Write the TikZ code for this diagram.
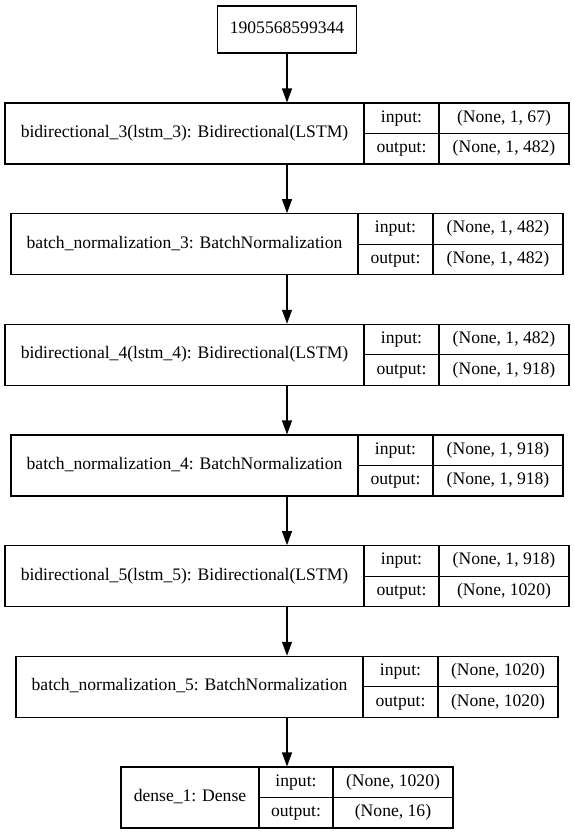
\documentclass[tikz,border=0pt]{standalone}
\usepackage{fontspec}
\setmainfont{Liberation Serif}
\usetikzlibrary{arrows.meta}
\tikzset{
  box/.style={draw=black, line width=1.1pt, inner sep=0pt, fill=none},
  txt/.style={inner sep=0pt, font=\fontsize{17.6}{20}\selectfont, text height=12pt, text depth=4pt},
  divline/.style={draw=black, line width=1.1pt},
  arr/.style={draw=black, line width=1.1pt, -{Triangle[length=14pt,width=10pt]}},
}
\newcommand{\kerasrec}[9]{%
  \node[box, minimum width={(#6-#3)*1pt}, minimum height=61pt] (#1) at ({(#3+#6)/2},{#2+30.5}) {};
  \draw[divline] (#4,#2) -- (#4,{#2+61});
  \draw[divline] (#5,#2) -- (#5,{#2+61});
  \draw[divline] (#4,{#2+30.5}) -- (#6,{#2+30.5});
  \node[txt] (#1n) at ({(#3+#4)/2},{#2+30.5}) {#7};
  \node[txt] (#1i) at ({(#4+#5)/2},{#2+15.25}) {input:};
  \node[txt] (#1o) at ({(#4+#5)/2},{#2+45.75}) {output:};
  \node[txt] (#1vi) at ({(#5+#6)/2},{#2+15.25}) {#8};
  \node[txt] (#1vo) at ({(#5+#6)/2},{#2+45.75}) {#9};
}
\begin{document}
\begin{tikzpicture}[x=1pt,y=-1pt]
\useasboundingbox (0,0) rectangle (575,835);
\node[box, txt, minimum width=139pt, minimum height=47pt] (inp) at (287,29.5) {1905568599344};
\kerasrec{b2}{103}{5}{364}{439}{569}{bidirectional\_3(lstm\_3): Bidirectional(LSTM)}{(None, 1, 67)}{(None, 1, 482)}
\kerasrec{b3}{213.7}{11}{358}{433}{563}{batch\_normalization\_3: BatchNormalization}{(None, 1, 482)}{(None, 1, 482)}
\kerasrec{b4}{324.3}{5}{364}{439}{569}{bidirectional\_4(lstm\_4): Bidirectional(LSTM)}{(None, 1, 482)}{(None, 1, 918)}
\kerasrec{b5}{435}{11}{358}{433}{563}{batch\_normalization\_4: BatchNormalization}{(None, 1, 918)}{(None, 1, 918)}
\kerasrec{b6}{545.7}{5}{364}{439}{569}{bidirectional\_5(lstm\_5): Bidirectional(LSTM)}{(None, 1, 918)}{(None, 1020)}
\kerasrec{b7}{656.3}{16}{363}{438}{558}{batch\_normalization\_5: BatchNormalization}{(None, 1020)}{(None, 1020)}
\kerasrec{b8}{767}{121}{259}{333}{453}{dense\_1: Dense}{(None, 1020)}{(None, 16)}
\draw[arr] (inp.south) -- (b2.north);
\draw[arr] (b2.south) -- (b3.north);
\draw[arr] (b3.south) -- (b4.north);
\draw[arr] (b4.south) -- (b5.north);
\draw[arr] (b5.south) -- (b6.north);
\draw[arr] (b6.south) -- (b7.north);
\draw[arr] (b7.south) -- (b8.north);
\end{tikzpicture}
\end{document}
